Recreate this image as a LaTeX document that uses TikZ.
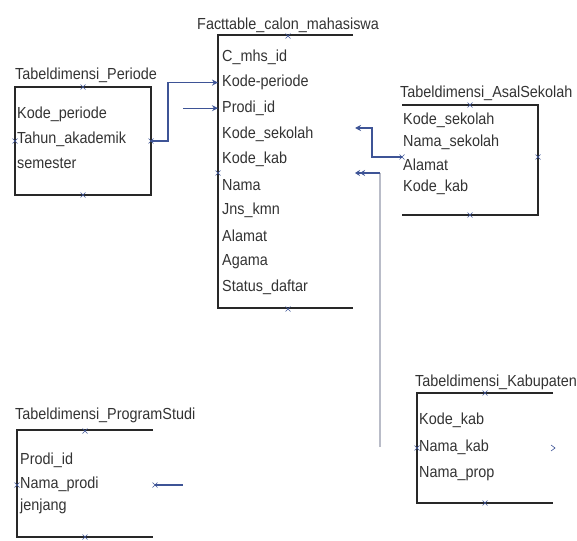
\documentclass[tikz,border=0pt]{standalone}
\usepackage{fontspec}
\setmainfont{Liberation Sans}[FakeStretch=0.9]
\usetikzlibrary{arrows.meta}
\definecolor{linkcol}{RGB}{62,84,150}
\definecolor{faintcol}{RGB}{185,188,200}
\definecolor{boxcol}{RGB}{40,40,40}
\tikzset{
  field/.style={anchor=west, inner sep=0pt, text=black!80,
    font=\fontsize{16}{18}\selectfont},
  tableline/.style={boxcol, line width=1.8pt},
  conn/.style={linkcol, line width=1.1pt},
  faint/.style={faintcol, line width=1.1pt},
  cpt/.style={linkcol, line width=0.6pt},
  tip/.style={-{Stealth[length=6pt,width=6pt]}},
}
\newcommand\cmark[1]{\draw[cpt] #1 ++(-2.5,-2.5) -- ++(5,5) ++(-5,0) -- ++(5,-5);}

\begin{document}
\begin{tikzpicture}[x=1pt, y=-1pt]
\useasboundingbox (0,0) rectangle (577,540);

% Tabeldimensi_Periode
\node[field] (per) at (15,75) {Tabeldimensi\_Periode};
\draw[tableline] (15,87) rectangle (151,195);
\node[field] (per1) at (17,114) {Kode\_periode};
\node[field] (per2) at (17,139) {Tahun\_akademik};
\node[field] (per3) at (17,163) {semester};

% Facttable_calon_mahasiswa (no right border)
\node[field] (fact) at (197,25) {Facttable\_calon\_mahasiswa};
\draw[tableline] (353,35) -- (218,35) -- (218,308) -- (353,308);
\foreach \name [count=\i] in {C\_mhs\_id, Kode-periode, Prodi\_id,
    Kode\_sekolah, Kode\_kab, Nama, Jns\_kmn, Alamat, Agama, Status\_daftar}
  \node[field] (f\i) at (222,{57+25.6*(\i-1)}) {\name};

% Tabeldimensi_AsalSekolah
\node[field] (as) at (400,93) {Tabeldimensi\_AsalSekolah};
\draw[tableline] (402,105) -- (538,105) -- (538,215) -- (402,215);
\node[field] (as1) at (403,120) {Kode\_sekolah};
\node[field] (as2) at (403,142) {Nama\_sekolah};
\node[field] (as3) at (403,165) {Alamat};
\node[field] (as4) at (403,187) {Kode\_kab};

% Tabeldimensi_Kabupaten
\node[field] (kab) at (415,382) {Tabeldimensi\_Kabupaten};
\draw[tableline] (553,393) -- (417,393) -- (417,503) -- (553,503);
\node[field] (kab1) at (419,420) {Kode\_kab};
\node[field] (kab2) at (419,447) {Nama\_kab};
\node[field] (kab3) at (419,474) {Nama\_prop};

% Tabeldimensi_ProgramStudi
\node[field] (ps) at (15,415) {Tabeldimensi\_ProgramStudi};
\draw[tableline] (153,430) -- (17,430) -- (17,537) -- (153,537);
\node[field] (ps1) at (20,460) {Prodi\_id};
\node[field] (ps2) at (20,484) {Nama\_prodi};
\node[field] (ps3) at (20,506) {jenjang};

% connection points
\coordinate (factL) at (218,0);
\coordinate (factR) at (355,0);
\coordinate (per-e) at (151,141);
\coordinate (prodi-free) at (183,0);
\coordinate (as-w) at (402,157);
\coordinate (fact-sek) at (355,128);
\coordinate (fact-kab) at (355,173);
\coordinate (kab-free) at (380,447);
\coordinate (ps-e) at (155,485);
\coordinate (ps-free) at (183,485);

% links
\draw[conn, tip] (per-e) -- ++(17,0) |- (f2.west -| factL);
\draw[conn, tip] (f3.west -| prodi-free) -- (f3.west -| factL);
\draw[conn, tip] (as-w) -- ++(-30,0) |- (fact-sek);
\draw[faint] (kab-free) -- (kab-free |- fact-kab) coordinate (kab-turn);
\draw[conn, -{Stealth[length=5pt,width=6pt] Stealth[length=5pt,width=6pt]}]
  (kab-turn) -- (fact-kab);
\draw[conn] (ps-e) -- (ps-free);

% small markers on the tables
\cmark{(83,87)} \cmark{(83,195)} \cmark{(15,141)} \cmark{(151,141)}
\cmark{(288,36)} \cmark{(288,309)} \cmark{(218,173)}
\cmark{(470,105)} \cmark{(470,215)} \cmark{(538,157)} \cmark{(402,157)}
\cmark{(485,393)} \cmark{(485,503)} \cmark{(417,448)}
\cmark{(85,431)} \cmark{(85,537)} \cmark{(17,485)} \cmark{(155,485)}
\draw[cpt] (551,445) -- (555,448) -- (551,451);

\end{tikzpicture}
\end{document}
